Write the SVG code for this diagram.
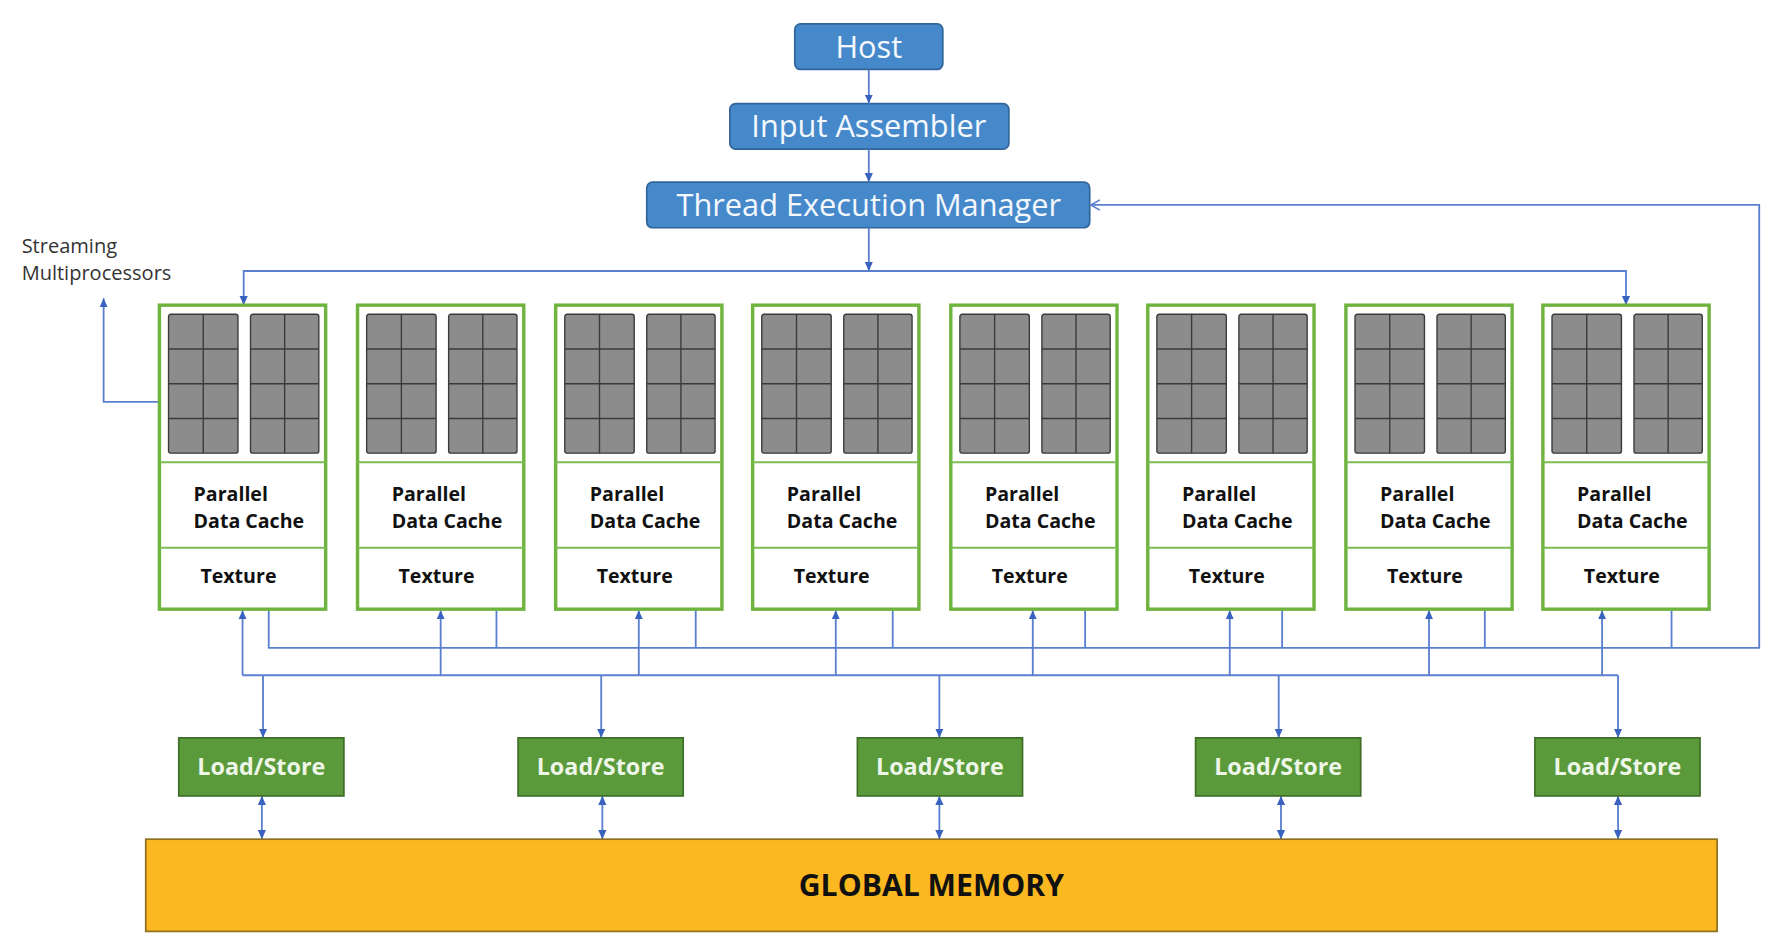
<svg xmlns="http://www.w3.org/2000/svg" xmlns:xlink="http://www.w3.org/1999/xlink" width="1782" height="942" viewBox="0 0 1782 942">
<style>
.blue{fill:#4689cb;stroke:#31659a;stroke-width:1.5}
.bt{font-family:"Open Sans","Liberation Sans",sans-serif;fill:#f4f8fc;text-anchor:middle;font-size:27px}
.sm{fill:#ffffff;stroke:#6fb43f;stroke-width:3}
.div{stroke:#7cbd52;stroke-width:1.8}
.st{font-family:"Open Sans","Liberation Sans",sans-serif;font-weight:700;font-size:17.2px;fill:#111}
.ls{fill:#5a9a3a;stroke:#3e6e28;stroke-width:1.5}
.lt{font-family:"Open Sans","Liberation Sans",sans-serif;font-weight:700;font-size:20.5px;fill:#eef6e8;text-anchor:middle}
.mem{fill:#fbb821;stroke:#8f7020;stroke-width:1.5}
.mt{font-family:"Open Sans","Liberation Sans",sans-serif;font-weight:700;font-size:26.5px;fill:#111;text-anchor:middle}
.lab{font-family:"Open Sans","Liberation Sans",sans-serif;font-size:17.6px;fill:#333}
.c{fill:none;stroke:#5b7fcf;stroke-width:1.6}
.cell{fill:#8c8c8c;stroke:#3a3a3a;stroke-width:1.2}
</style>
<defs>
<marker id="ah" viewBox="0 0 10 10" refX="10" refY="5" markerWidth="8" markerHeight="8" markerUnits="userSpaceOnUse" orient="auto-start-reverse">
<path d="M0,0.5 L10,5 L0,9.5 z" fill="#3a62bf"/>
</marker>
<marker id="oa" viewBox="0 0 10 10" refX="9" refY="5" markerWidth="10" markerHeight="10" markerUnits="userSpaceOnUse" orient="auto">
<path d="M1,0.5 L9,5 L1,9.5" fill="none" stroke="#5b7fcf" stroke-width="1.4"/>
</marker>
<g id="cores">
<rect class="cell" x="8" y="8" width="61" height="122" rx="2"/>
<path class="cell" d="M38.5 8 V130 M8 38.5 H69 M8 69 H69 M8 99.5 H69"/>
<rect class="cell" x="80" y="8" width="60" height="122" rx="2"/>
<path class="cell" d="M110 8 V130 M80 38.5 H140 M80 69 H140 M80 99.5 H140"/>
</g>
</defs>
<rect x="0" y="0" width="1782" height="942" fill="#ffffff"/>
<g transform="scale(1.13866)">
<g id="host"><rect class="blue" x="698" y="21" width="130" height="40" rx="5"/><text class="bt" x="763" y="50.5">Host</text></g>
<g id="input-assembler"><rect class="blue" x="641" y="91" width="245" height="40" rx="5"/><text class="bt" x="763" y="120.5">Input Assembler</text></g>
<g id="thread-execution-manager"><rect class="blue" x="568" y="160" width="389" height="40" rx="5"/><text class="bt" x="763" y="189.5">Thread Execution Manager</text></g>

<g id="connectors">
<path class="c" d="M763 61 V91" marker-end="url(#ah)"/>
<path class="c" d="M763 131 V160" marker-end="url(#ah)"/>
<path class="c" d="M763 200 V238" marker-end="url(#ah)"/>
<path class="c" d="M214 268 V238 H1428 V268" marker-start="url(#ah)" marker-end="url(#ah)"/>
<path class="c" d="M148 353 H91 V262" marker-end="url(#ah)"/>
<path class="c" d="M213 593 H1421"/>
<path class="c" d="M213 593 V536" marker-end="url(#ah)"/>
<path class="c" d="M387 593 V536" marker-end="url(#ah)"/>
<path class="c" d="M561 593 V536" marker-end="url(#ah)"/>
<path class="c" d="M734 593 V536" marker-end="url(#ah)"/>
<path class="c" d="M907 593 V536" marker-end="url(#ah)"/>
<path class="c" d="M1080 593 V536" marker-end="url(#ah)"/>
<path class="c" d="M1255 593 V536" marker-end="url(#ah)"/>
<path class="c" d="M1407 593 V536" marker-end="url(#ah)"/>
<path class="c" d="M236 536 V569 H1545 V180 H958" marker-end="url(#oa)"/>
<path class="c" d="M436 536 V569 M611 536 V569 M784 536 V569 M953 536 V569 M1126 536 V569 M1304 536 V569 M1468 536 V569"/>
<path class="c" d="M231 593 V648" marker-end="url(#ah)"/>
<path class="c" d="M528 593 V648" marker-end="url(#ah)"/>
<path class="c" d="M825 593 V648" marker-end="url(#ah)"/>
<path class="c" d="M1123 593 V648" marker-end="url(#ah)"/>
<path class="c" d="M1421 593 V648" marker-end="url(#ah)"/>
<path class="c" d="M230 699 V737" marker-start="url(#ah)" marker-end="url(#ah)"/>
<path class="c" d="M529 699 V737" marker-start="url(#ah)" marker-end="url(#ah)"/>
<path class="c" d="M825 699 V737" marker-start="url(#ah)" marker-end="url(#ah)"/>
<path class="c" d="M1125 699 V737" marker-start="url(#ah)" marker-end="url(#ah)"/>
<path class="c" d="M1421 699 V737" marker-start="url(#ah)" marker-end="url(#ah)"/>
</g>

<g id="sm-label"><text class="lab" x="19" y="222">Streaming</text><text class="lab" x="19" y="246">Multiprocessors</text></g>

<g id="sm1" transform="translate(140,268)"><rect class="sm" width="146" height="267"/><use xlink:href="#cores"/><path class="div" d="M0 138 H146 M0 213 H146"/><text class="st" x="30" y="172">Parallel</text><text class="st" x="30" y="196">Data Cache</text><text class="st" x="36" y="244">Texture</text></g>
<g id="sm2" transform="translate(314,268)"><rect class="sm" width="146" height="267"/><use xlink:href="#cores"/><path class="div" d="M0 138 H146 M0 213 H146"/><text class="st" x="30" y="172">Parallel</text><text class="st" x="30" y="196">Data Cache</text><text class="st" x="36" y="244">Texture</text></g>
<g id="sm3" transform="translate(488,268)"><rect class="sm" width="146" height="267"/><use xlink:href="#cores"/><path class="div" d="M0 138 H146 M0 213 H146"/><text class="st" x="30" y="172">Parallel</text><text class="st" x="30" y="196">Data Cache</text><text class="st" x="36" y="244">Texture</text></g>
<g id="sm4" transform="translate(661,268)"><rect class="sm" width="146" height="267"/><use xlink:href="#cores"/><path class="div" d="M0 138 H146 M0 213 H146"/><text class="st" x="30" y="172">Parallel</text><text class="st" x="30" y="196">Data Cache</text><text class="st" x="36" y="244">Texture</text></g>
<g id="sm5" transform="translate(835,268)"><rect class="sm" width="146" height="267"/><use xlink:href="#cores"/><path class="div" d="M0 138 H146 M0 213 H146"/><text class="st" x="30" y="172">Parallel</text><text class="st" x="30" y="196">Data Cache</text><text class="st" x="36" y="244">Texture</text></g>
<g id="sm6" transform="translate(1008,268)"><rect class="sm" width="146" height="267"/><use xlink:href="#cores"/><path class="div" d="M0 138 H146 M0 213 H146"/><text class="st" x="30" y="172">Parallel</text><text class="st" x="30" y="196">Data Cache</text><text class="st" x="36" y="244">Texture</text></g>
<g id="sm7" transform="translate(1182,268)"><rect class="sm" width="146" height="267"/><use xlink:href="#cores"/><path class="div" d="M0 138 H146 M0 213 H146"/><text class="st" x="30" y="172">Parallel</text><text class="st" x="30" y="196">Data Cache</text><text class="st" x="36" y="244">Texture</text></g>
<g id="sm8" transform="translate(1355,268)"><rect class="sm" width="146" height="267"/><use xlink:href="#cores"/><path class="div" d="M0 138 H146 M0 213 H146"/><text class="st" x="30" y="172">Parallel</text><text class="st" x="30" y="196">Data Cache</text><text class="st" x="36" y="244">Texture</text></g>

<g id="ls1"><rect class="ls" x="157" y="648" width="145" height="51"/><text class="lt" x="229.5" y="681">Load/Store</text></g>
<g id="ls2"><rect class="ls" x="455" y="648" width="145" height="51"/><text class="lt" x="527.5" y="681">Load/Store</text></g>
<g id="ls3"><rect class="ls" x="753" y="648" width="145" height="51"/><text class="lt" x="825.5" y="681">Load/Store</text></g>
<g id="ls4"><rect class="ls" x="1050" y="648" width="145" height="51"/><text class="lt" x="1122.5" y="681">Load/Store</text></g>
<g id="ls5"><rect class="ls" x="1348" y="648" width="145" height="51"/><text class="lt" x="1420.5" y="681">Load/Store</text></g>

<g id="global-memory"><rect class="mem" x="128" y="737" width="1380" height="81"/><text class="mt" x="818" y="787">GLOBAL MEMORY</text></g>
</g>
</svg>
